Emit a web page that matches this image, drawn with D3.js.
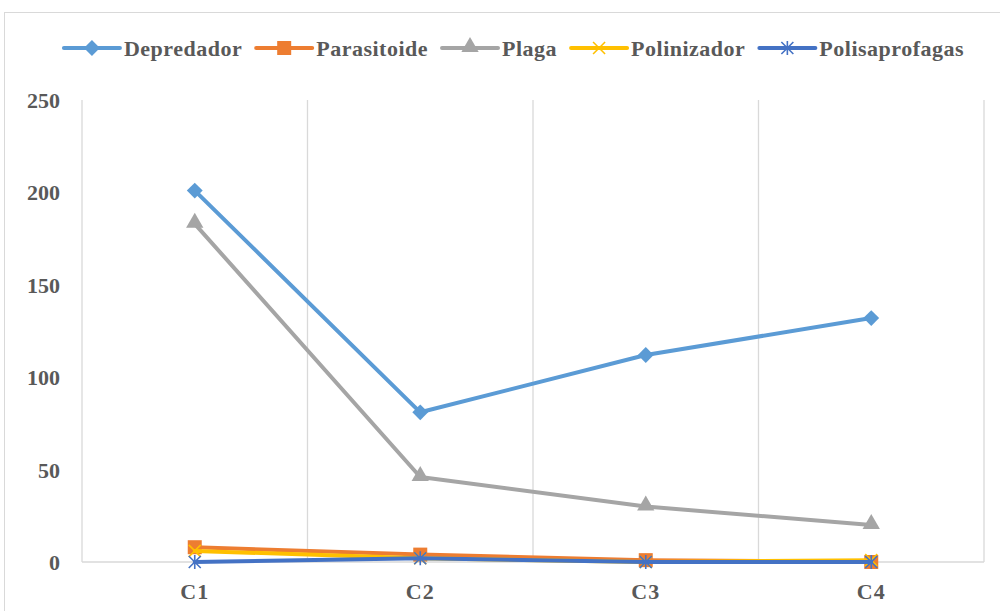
<!DOCTYPE html>
<html>
<head>
<meta charset="utf-8">
<script src="https://cdn.jsdelivr.net/npm/d3@7"></script>
<style>
  body { margin: 0; background: #fff; }
  text { font-family: "Liberation Serif", "Times New Roman", serif; font-weight: bold; fill: #595959; }
</style>
</head>
<body>
<div id="chart"></div>
<script>
var categories = ["C1", "C2", "C3", "C4"];
var seriesNames = ["Depredador", "Parasitoide", "Plaga", "Polinizador", "Polisaprofagas"];
var depredador = [201, 81, 112, 132];
var parasitoide = [8, 4, 1, 0];
var plaga = [183, 46, 30, 20];
var polinizador = [6, 2, 0, 1];
var polisaprofagas = [0, 2, 0, 0];
var yTicks = [0, 50, 100, 150, 200, 250];

var colors = ["#5B9BD5", "#ED7D31", "#A5A5A5", "#FFC000", "#4472C4"];
var markers = ["diamond", "square", "triangle", "x", "star"];
var allValues = [depredador, parasitoide, plaga, polinizador, polisaprofagas];

var width = 1000, height = 611;
var plot = { left: 82, right: 984, top: 100, bottom: 562 };

var svg = d3.select("#chart").append("svg")
    .attr("width", width)
    .attr("height", height);

// chart border
svg.append("rect")
    .attr("x", 4.5).attr("y", 12.5)
    .attr("width", 1010).attr("height", 610)
    .attr("fill", "none")
    .attr("stroke", "#D9D9D9")
    .attr("stroke-width", 1);

var xScale = d3.scaleBand()
    .domain(categories)
    .range([plot.left, plot.right]);
var yScale = d3.scaleLinear()
    .domain([0, 250])
    .range([plot.bottom, plot.top]);

// vertical gridlines at category boundaries
var bounds = categories.map(function (c) { return xScale(c); }).concat([plot.right]);
svg.append("g").selectAll("line")
    .data(bounds)
    .join("line")
    .attr("x1", function (d) { return d; })
    .attr("x2", function (d) { return d; })
    .attr("y1", plot.top)
    .attr("y2", plot.bottom)
    .attr("stroke", "#D9D9D9")
    .attr("stroke-width", 1.3);

// category axis line
svg.append("line")
    .attr("x1", plot.left).attr("x2", plot.right)
    .attr("y1", yScale(0)).attr("y2", yScale(0))
    .attr("stroke", "#D9D9D9")
    .attr("stroke-width", 1.3);

// y axis labels
var yAxis = svg.append("g")
    .attr("transform", "translate(" + (plot.left - 22) + ",0)")
    .call(d3.axisLeft(yScale).tickValues(yTicks).tickSize(0).tickPadding(0));
yAxis.select(".domain").remove();
yAxis.selectAll("text")
    .attr("font-size", 22)
    .attr("dy", "0.34em")
    .style("font-family", "Liberation Serif")
    .style("font-weight", "bold")
    .attr("fill", "#595959");

// x axis labels
var xAxis = svg.append("g")
    .attr("transform", "translate(0," + plot.bottom + ")")
    .call(d3.axisBottom(xScale).tickSize(0).tickPadding(21));
xAxis.select(".domain").remove();
xAxis.selectAll("text")
    .attr("font-size", 22)
    .attr("letter-spacing", "1px")
    .style("font-family", "Liberation Serif")
    .style("font-weight", "bold")
    .attr("fill", "#595959");

function cx(c) { return xScale(c) + xScale.bandwidth() / 2; }

function drawMarker(g, type, color, x, y) {
    if (type === "diamond") {
        g.append("path").attr("d", d3.symbol(d3.symbolDiamond2, 160)())
            .attr("transform", "translate(" + x + "," + y + ")")
            .attr("fill", color);
    } else if (type === "square") {
        g.append("rect").attr("x", x - 7).attr("y", y - 7)
            .attr("width", 14).attr("height", 14)
            .attr("fill", color);
    } else if (type === "triangle") {
        g.append("path").attr("d", d3.symbol(d3.symbolTriangle, 130)())
            .attr("transform", "translate(" + x + "," + (y - 1) + ")")
            .attr("fill", color);
    } else if (type === "x") {
        g.append("path").attr("d", "M-6,-6L6,6M-6,6L6,-6")
            .attr("transform", "translate(" + x + "," + y + ")")
            .attr("stroke", color).attr("stroke-width", 1.6).attr("fill", "none");
    } else if (type === "star") {
        g.append("path").attr("d", "M-6,-6L6,6M-6,6L6,-6M0,-7L0,7")
            .attr("transform", "translate(" + x + "," + y + ")")
            .attr("stroke", color).attr("stroke-width", 1.6).attr("fill", "none");
    }
}

var line = d3.line()
    .x(function (d, i) { return cx(categories[i]); })
    .y(function (d) { return yScale(d); });

allValues.forEach(function (vals, s) {
    var g = svg.append("g");
    g.append("path")
        .datum(vals)
        .attr("d", line)
        .attr("fill", "none")
        .attr("stroke", colors[s])
        .attr("stroke-width", 4)
        .attr("stroke-linejoin", "round")
        .attr("stroke-linecap", "round");
    vals.forEach(function (v, i) {
        drawMarker(g, markers[s], colors[s], cx(categories[i]), yScale(v));
    });
});

// legend
var legend = svg.append("g");
var lx = 0, ly = 48;
seriesNames.forEach(function (name, s) {
    var item = legend.append("g").attr("transform", "translate(" + lx + ",0)");
    item.append("line")
        .attr("x1", 0).attr("x2", 56)
        .attr("y1", ly).attr("y2", ly)
        .attr("stroke", colors[s])
        .attr("stroke-width", 4)
        .attr("stroke-linecap", "round");
    drawMarker(item, markers[s], colors[s], 28, ly);
    var t = item.append("text")
        .attr("x", 60)
        .attr("y", ly + 8)
        .attr("font-size", 22)
        .attr("letter-spacing", "0.5px")
        .text(name);
    lx += 60 + t.node().getComputedTextLength() + 14;
});
var legendWidth = lx - 14;
legend.attr("transform", "translate(" + (514 - legendWidth / 2) + ",0)");
</script>
</body>
</html>
